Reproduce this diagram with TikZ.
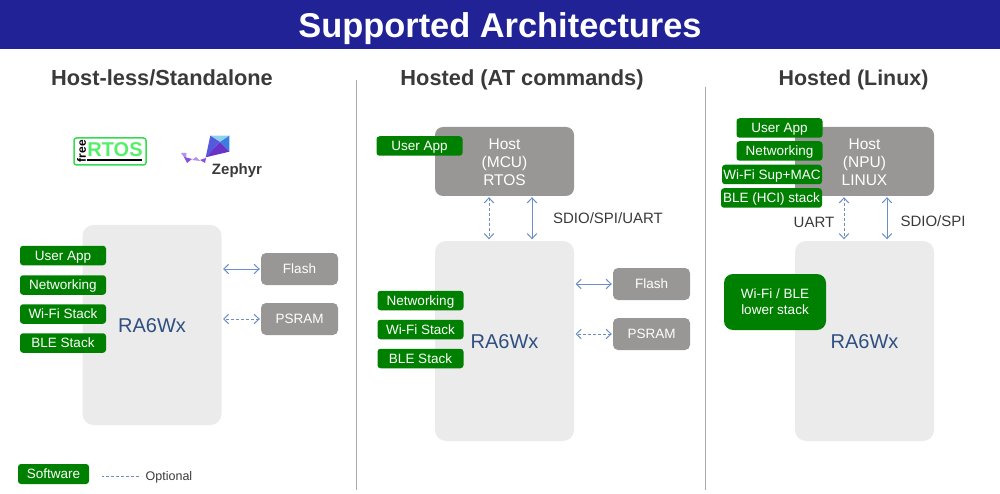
\documentclass[tikz,border=0pt]{standalone}
\usepackage{fontspec}
\setmainfont{Liberation Sans}
\usepackage{xcolor}
\definecolor{banner}{RGB}{32,34,150}
\definecolor{headgray}{RGB}{58,58,60}
\definecolor{rulegray}{RGB}{170,170,170}
\definecolor{chipgray}{RGB}{235,235,235}
\definecolor{boxgray}{RGB}{152,151,150}
\definecolor{swgreen}{RGB}{0,128,0}
\definecolor{linkblue}{RGB}{108,142,198}
\definecolor{chipblue}{RGB}{47,79,128}
\definecolor{rtosgreen}{RGB}{85,240,105}
\definecolor{rtosframe}{RGB}{50,220,80}
\definecolor{kitetop}{RGB}{140,210,240}
\definecolor{kiteright}{RGB}{60,125,225}
\definecolor{kiteleft}{RGB}{85,90,220}
\definecolor{kitelow}{RGB}{105,50,200}
\definecolor{taillight}{RGB}{180,145,235}
\definecolor{taildark}{RGB}{135,80,225}
\usetikzlibrary{arrows.meta}
\tikzset{
  chipbox/.style={fill=chipgray,rounded corners=11pt,minimum width=139pt,minimum height=200pt,inner sep=0pt},
  chiplabel/.style={text=chipblue,font=\fontsize{20}{24}\selectfont,text height=14.3pt,text depth=0pt},
  hostbox/.style={fill=boxgray,rounded corners=8pt,minimum width=139pt,minimum height=69pt,inner sep=0pt},
  hostlabel/.style={text=white,align=center,font=\fontsize{15.5}{18}\selectfont},
  membox/.style={fill=boxgray,rounded corners=5pt,minimum width=77pt,minimum height=32pt,inner sep=0pt,text=white,font=\fontsize{13.5}{16}\selectfont,text height=9.7pt,text depth=0pt},
  swbase/.style={fill=swgreen,inner sep=0pt,text=white,font=\fontsize{13.5}{16}\selectfont},
  swbox/.style={swbase,rounded corners=3pt,minimum width=86pt,minimum height=19.5pt,text height=9.7pt,text depth=0pt},
  headlabel/.style={text=headgray,font=\bfseries\fontsize{21.8}{26}\selectfont,text height=15.6pt,text depth=0pt},
  buslabel/.style={text=headgray,font=\fontsize{15}{18}\selectfont,text height=10.7pt,text depth=0pt},
  link/.style={draw=linkblue,line width=1pt,{Straight Barb[length=5pt,width=9.5pt]}-{Straight Barb[length=5pt,width=9.5pt]}},
  optlink/.style={link,dash pattern=on 3pt off 2pt},
}
\begin{document}
\begin{tikzpicture}[x=1pt,y=-1pt]
\useasboundingbox (0,0) rectangle (1000,494);
\fill[banner] (0,0) rectangle (1000,49);
\node[text=white,font=\bfseries\fontsize{34.4}{40}\selectfont,text height=24.6pt,text depth=0pt] (title) at (500,25) {Supported Architectures};
\node[headlabel] (headA) at (162,78) {Host-less/Standalone};
\node[headlabel] (headB) at (522,78) {Hosted (AT commands)};
\node[headlabel,font=\bfseries\fontsize{21.4}{26}\selectfont] (headC) at (853.5,78) {Hosted (Linux)};
\draw[rulegray] (356,80)--(356,490);
\draw[rulegray] (705,87)--(705,490);

% freeRTOS logo
\draw[rtosframe,line width=1.5pt,rounded corners=2.5pt] (74,138) rectangle (146,165);
\node[text=rtosgreen,font=\bfseries\fontsize{20}{22}\selectfont,inner sep=0pt] (rtos) at (115,150) {RTOS};
\node[rotate=90,font=\bfseries\fontsize{12}{14}\selectfont,inner sep=0pt] (free) at (81.5,151) {free};
\draw[line width=1.5pt] (87,160)--(142,160);

% Zephyr logo
\fill[kitetop] (210.3,135.7)--(229.3,135.7)--(220,142)--cycle;
\fill[kiteright] (229.3,135.7)--(229.3,151.7)--(220,142)--cycle;
\fill[kiteleft] (210.3,135.7)--(220,142)--(205.7,157.3)--cycle;
\fill[kitelow] (205.7,157.3)--(220,142)--(229.3,151.7)--cycle;
\fill[taillight] (181,153)--(186.5,153)--(186,160)--cycle;
\fill[taildark] (187,163)--(192,159)--(184,157)--cycle;
\fill[taillight] (192,160)--(196,157)--(200,161)--cycle;
\fill[taildark] (200,160)--(206,158)--(205,163)--cycle;
\node[text=headgray,font=\fontsize{15}{18}\selectfont\bfseries,inner sep=0pt] (zephyr) at (237,170.5) {Zephyr};

% host-less
\node[chipbox] (chipA) at (152,325) {};
\node[chiplabel] (chipAtext) at (152,325) {RA6Wx};
\node[swbox] (appA) at (63,255.5) {User App};
\node[swbox] (netA) at (63,285) {Networking};
\node[swbox] (wifiA) at (63,314) {Wi-Fi Stack};
\node[swbox] (bleA) at (63,343) {BLE Stack};
\node[membox] (flashA) at (299.5,269) {Flash};
\node[membox] (psramA) at (299.5,319) {PSRAM};
\draw[link] (flashA.west) ++(-1,0) -- (223,269);
\draw[optlink] (psramA.west) ++(-1,0) -- (223,319);

% hosted AT
\node[hostbox] (hostB) at (504.5,161.5) {};
\node[hostlabel] (hostBtext) at (504.5,162.5) {Host\\(MCU)\\RTOS};
\node[chipbox] (chipB) at (504.5,341) {};
\node[chiplabel] (chipBtext) at (504.5,341) {RA6Wx};
\node[swbox] (appB) at (419.5,146) {User App};
\node[swbox] (netB) at (420.5,300.5) {Networking};
\node[swbox] (wifiB) at (420.5,329.5) {Wi-Fi Stack};
\node[swbox] (bleB) at (420.5,358.5) {BLE Stack};
\node[membox] (flashB) at (651.5,284) {Flash};
\node[membox] (psramB) at (651.5,334) {PSRAM};
\draw[link] (flashB.west) ++(-1,0) -- (575.5,284);
\draw[optlink] (psramB.west) ++(-1,0) -- (575.5,334);
\draw[optlink] ([xshift=-15.5pt,yshift=-1pt]hostB.south) -- ([xshift=-15.5pt,yshift=1.5pt]chipB.north);
\draw[link] ([xshift=27.5pt,yshift=-1pt]hostB.south) -- ([xshift=27.5pt,yshift=1.5pt]chipB.north);
\node[buslabel] (busB) at (608,218) {SDIO/SPI/UART};

% hosted Linux
\node[hostbox] (hostC) at (864.5,161.5) {};
\node[hostlabel] (hostCtext) at (864.5,162.5) {Host\\(NPU)\\LINUX};
\node[chipbox] (chipC) at (864.5,341) {};
\node[chiplabel] (chipCtext) at (864.5,341) {RA6Wx};
\node[swbox] (appC) at (779.5,128) {User App};
\node[swbox] (netC) at (779.5,151) {Networking};
\node[swbox,minimum width=100pt] (wifiC) at (772,174.5) {Wi-Fi Sup+MAC};
\node[swbox,minimum width=101pt] (bleC) at (771.5,198) {BLE (HCI) stack};
\node[swbase,rounded corners=9pt,minimum width=102pt,minimum height=56pt,align=center] (lowerC) at (775,302) {Wi-Fi / BLE\\lower stack};
\draw[optlink] ([xshift=-20.5pt,yshift=-1pt]hostC.south) -- ([xshift=-20.5pt,yshift=1.5pt]chipC.north);
\draw[link] ([xshift=22.5pt,yshift=-1pt]hostC.south) -- ([xshift=22.5pt,yshift=1.5pt]chipC.north);
\node[buslabel] (uartC) at (814,222) {UART};
\node[buslabel] (busC) at (933,221) {SDIO/SPI};

% legend
\node[swbox,minimum width=71pt,minimum height=20pt] (legendsw) at (53.5,474) {Software};
\node[text=headgray,font=\fontsize{12.5}{15}\selectfont,text height=9pt,text depth=0pt] (legendopt) at (169,476) {Optional};
\draw[draw=linkblue,line width=1pt,dash pattern=on 3pt off 2pt] (legendopt.west) ++(-3,0) -- (102,476);
\end{tikzpicture}
\end{document}
